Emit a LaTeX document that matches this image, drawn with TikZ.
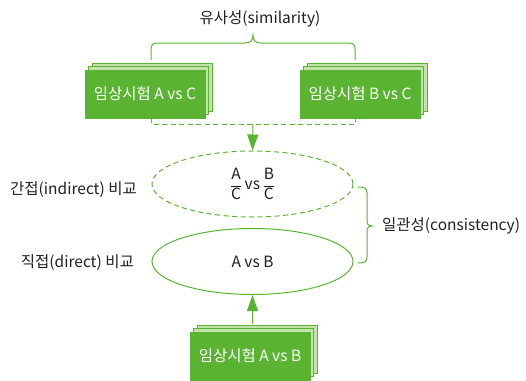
\documentclass[tikz,border=0pt]{standalone}
\usepackage{amsmath}
\usepackage{fontspec}
\setmainfont{Noto Sans CJK KR}
\usetikzlibrary{shapes.geometric}
\usetikzlibrary{shadows}
\usetikzlibrary{arrows.meta}
\definecolor{trialgreen}{HTML}{5AB432}
\definecolor{palegreen}{HTML}{C4E2AC}
\definecolor{inktext}{HTML}{231F20}
\newcommand{\kfont}{\fontsize{15.5}{18}\selectfont}

\tikzset{
  trial/.style={fill=trialgreen, draw=trialgreen, line width=0.8pt,
    minimum width=120pt, minimum height=48pt, inner sep=0pt,
    text=white, font=\kfont,
    copy shadow={shadow xshift=7pt, shadow yshift=7pt, fill=palegreen, draw=trialgreen},
    copy shadow={shadow xshift=3.5pt, shadow yshift=3.5pt, fill=palegreen, draw=trialgreen}},
  compare/.style={ellipse, draw=trialgreen, line width=1pt,
    minimum width=201pt, minimum height=66pt, inner sep=0pt,
    text=inktext, font=\kfont},
  label/.style={text=inktext, font=\kfont, inner sep=0pt},
  greenline/.style={draw=trialgreen, line width=1pt},
  greenarrow/.style={greenline, -{Triangle[length=16pt, width=11pt]}},
  dashy/.style={dash pattern=on 5pt off 3.5pt}
}

\begin{document}
\begin{tikzpicture}[x=1pt, y=-1pt]
  \useasboundingbox (0,0) rectangle (526,380);

  \node[label] (sim) at (260,19) {유사성(similarity)};
  \node[trial] (trialAC) at (145,94) {임상시험 A vs C};
  \node[trial] (trialBC) at (360,94) {임상시험 B vs C};
  \node[trial] (trialAB) at (250,356) {임상시험 A vs B};

  \node[compare, dashy] (indirect) at (252.5,184) {$\dfrac{\text{A}}{\text{C}}$\,vs\,$\dfrac{\text{B}}{\text{C}}$};
  \node[compare] (direct) at (252.5,261.5) {A vs B};

  \node[label, anchor=east] (indlabel) at (137,190) {간접(indirect) 비교};
  \node[label, anchor=east] (dirlabel) at (134,263) {직접(direct) 비교};
  \node[label, anchor=west] (conlabel) at (382,226) {일관성(consistency)};

  % brace over the two trials
  \draw[greenline] (151,60) -- (151,49) .. controls (151,45) and (153,43) .. (157,43)
    -- (245,43) .. controls (250,43) and (253,41) .. (253,35)
    .. controls (253,41) and (256,43) .. (261,43) -- (349,43)
    .. controls (353,43) and (355,45) .. (355,49) -- (355,60);

  % brace joining the two comparisons
  \draw[greenline] (358,187) .. controls (364,187) and (367,188) .. (367,193) -- (367,220)
    .. controls (367,224) and (368,226) .. (372,226)
    .. controls (368,226) and (367,228) .. (367,232) -- (367,257)
    .. controls (367,262) and (364,263) .. (358,263);

  \coordinate (join) at (253,124);
  \draw[greenline, dashy] (151,118) -- (151,124) -- (355,124) -- (355,118);
  \draw[greenarrow] (join) -- (indirect.north);
  \draw[greenarrow] ([yshift=8pt]direct.south |- trialAB.north) -- (direct.south);
\end{tikzpicture}
\end{document}
